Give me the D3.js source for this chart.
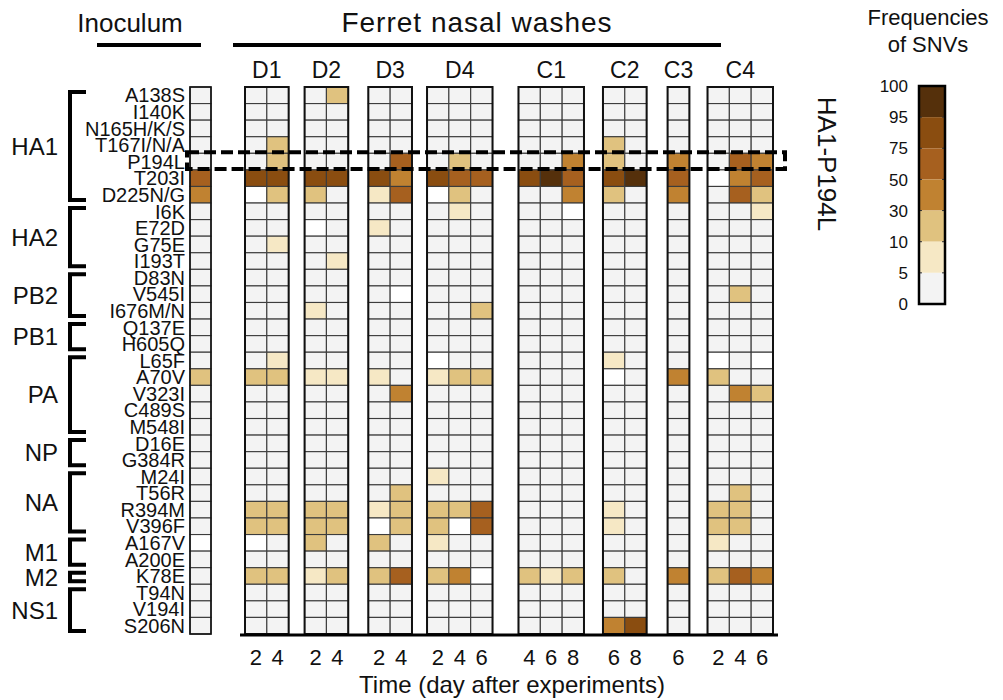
<!DOCTYPE html>
<html>
<head>
<meta charset="utf-8">
<script src="https://cdnjs.cloudflare.com/ajax/libs/d3/7.8.5/d3.min.js"></script>
<style>
  body { margin: 0; background: #fff; }
  svg text { font-family: "Liberation Sans", Arial, sans-serif; fill: #111; }
</style>
</head>
<body>
<svg id="chart" width="1003" height="700"></svg>
<script>
// mutations, top to bottom
var mutations = ["A138S", "I140K", "N165H/K/S", "T167I/N/A", "P194L", "T203I", "D225N/G",
  "I6K", "E72D", "G75E", "I193T",
  "D83N", "V545I", "I676M/N",
  "Q137E", "H605Q",
  "L65F", "A70V", "V323I", "C489S", "M548I",
  "D16E", "G384R",
  "M24I", "T56R", "R394M", "V396F",
  "A167V", "A200E",
  "K78E",
  "T94N", "V194I", "S206N"];
var genes = ["HA1", "HA2", "PB2", "PB1", "PA", "NP", "NA", "M1", "M2", "NS1"];
var geneRows = [7, 4, 3, 2, 5, 2, 4, 2, 1, 3];

var ferrets = ["D1", "D2", "D3", "D4", "C1", "C2", "C3", "C4"];
var ferretDays = [[2, 4], [2, 4], [2, 4], [2, 4, 6], [4, 6, 8], [6, 8], [6], [2, 4, 6]];

// SNV frequency (%) per sample, rows in the order above; null = white (no data)
var inoculum = [1,1,1,1,1,60,40, 1,1,1,1, 1,1,1, 1,1, 1,20,1,1,1, 1,1, 1,1,1,1, null,1, 1, 1,1,1];

var freqD1 = [
  [1,1,1,1,1,85,null, 1,1,1,1, 1,1,1, 1,1, 1,20,1,1,1, 1,1, 1,1,20,20, null,1, 20, 1,1,1],
  [1,1,1,20,20,85,20, 1,1,7,1, 1,1,1, 1,1, 7,20,1,1,1, 1,1, 1,1,20,20, 1,1, 20, 1,1,1]
];
var freqD2 = [
  [1,1,1,1,1,85,20, 1,null,1,1, 1,1,7, 1,1, 1,7,1,1,1, 1,1, 1,1,20,20, 20,1, 7, 1,1,1],
  [20,1,1,1,1,85,1, 1,1,1,7, 1,1,1, 1,1, 1,7,1,1,1, 1,1, 1,1,20,20, 1,1, 20, 1,1,1]
];
var freqD3 = [
  [1,1,1,1,1,85,7, 1,7,1,1, 1,1,1, 1,1, 1,7,1,1,1, 1,1, 1,1,7,null, 20,1, 20, 1,1,1],
  [1,1,1,1,60,40,60, 1,1,1,1, 1,null,1, 1,1, 1,1,40,1,1, 1,1, 1,20,20,20, 1,1, 60, 1,1,1]
];
var freqD4 = [
  [1,1,1,1,1,85,null, 1,1,1,1, 1,1,1, 1,1, null,7,1,1,1, 1,1, 7,1,20,20, 7,1, 20, 1,1,1],
  [1,1,1,1,20,60,20, 7,1,1,1, 1,1,1, 1,1, 1,20,1,1,1, 1,1, 1,1,20,null, 1,1, 40, 1,1,1],
  [1,1,1,1,1,60,1, 1,1,1,1, 1,1,20, 1,1, 1,20,1,1,1, 1,1, 1,1,60,60, 1,1, null, 1,1,1]
];
var freqC1 = [
  [1,1,1,1,1,85,1, 1,1,1,1, 1,1,1, 1,1, 1,1,1,1,1, 1,1, 1,1,1,1, 1,1, 20, 1,1,1],
  [1,1,1,1,1,98,1, 1,1,1,1, 1,1,1, 1,1, 1,1,1,1,1, 1,1, 1,1,1,1, 1,1, 7, 1,1,1],
  [1,1,1,1,40,60,40, null,1,1,1, 1,1,1, 1,1, 1,1,1,1,1, 1,1, 1,1,1,1, 1,1, 20, 1,1,1]
];
var freqC2 = [
  [1,1,1,20,20,85,20, 1,1,1,1, 1,1,1, 1,1, 7,null,1,1,1, 1,1, 1,1,7,7, 1,1, 20, 1,1,40],
  [1,1,1,1,1,98,1, 1,1,1,1, 1,1,1, 1,1, 1,1,1,1,1, 1,1, 1,1,1,1, 1,1, 1, 1,1,85]
];
var freqC3 = [
  [1,1,1,1,40,60,40, 1,1,1,1, 1,1,1, 1,1, 1,40,1,1,1, 1,1, 1,1,1,1, 1,1, 40, 1,1,1]
];
var freqC4 = [
  [1,1,1,1,1,null,1, 1,1,1,1, 1,1,1, 1,1, null,20,1,1,1, 1,1, 1,1,20,20, 7,1, 20, 1,1,1],
  [1,1,1,1,60,40,60, 1,1,1,1, 1,20,1, 1,1, 1,1,40,1,1, 1,1, 1,20,20,20, 1,1, 60, 1,1,1],
  [1,1,1,1,40,60,20, 7,1,1,1, 1,1,1, 1,1, null,1,20,1,1, 1,1, 1,1,1,1, 1,1, 40, 1,1,1]
];
var ferretFreqs = [freqD1, freqD2, freqD3, freqD4, freqC1, freqC2, freqC3, freqC4];

// legend
var legendTicks = [100, 95, 75, 50, 30, 10, 5, 0];
var binColors = ["#f3f3f3", "#f6e8c5", "#e0c27f", "#c08231", "#a6601f", "#8a4d10", "#55300b"];

var color = d3.scaleThreshold().domain([5, 10, 30, 50, 75, 95]).range(binColors);
function fillOf(v) { return v == null ? "#ffffff" : color(v); }

var svg = d3.select("#chart");
var y = d3.scaleBand().domain(mutations).range([87, 634]);
var rowH = y.bandwidth();

// horizontal layout of sample columns, in cell units with gaps between ferrets
var gapUnits = [0, 0.73, 0.92, 0.69, 1.19, 0.87, 0.96, 0.83];
var cols = [], groupSpans = [], u = 0;
ferrets.forEach(function(f, i) {
  u += gapUnits[i];
  var start = u;
  ferretDays[i].forEach(function(d, j) {
    cols.push({ferret: f, day: d, unit: u, values: ferretFreqs[i][j]});
    u += 1;
  });
  groupSpans.push({name: f, start: start, end: u});
});
var x = d3.scaleLinear().domain([0, u]).range([245, 773]);
var cellW = x(1) - x(0);

// ---- headers
svg.append("text").attr("x", 130).attr("y", 32).attr("text-anchor", "middle")
  .style("font-size", "26px").text("Inoculum");
svg.append("line").attr("x1", 97).attr("x2", 201).attr("y1", 45).attr("y2", 45)
  .attr("stroke", "#000").attr("stroke-width", 4);
svg.append("text").attr("x", 477).attr("y", 32).attr("text-anchor", "middle")
  .style("font-size", "28px").style("letter-spacing", "1px").text("Ferret nasal washes");
svg.append("line").attr("x1", 233).attr("x2", 721).attr("y1", 45).attr("y2", 45)
  .attr("stroke", "#000").attr("stroke-width", 4);

svg.append("g").selectAll("text").data(groupSpans).join("text")
  .attr("x", function(d) { return (x(d.start) + x(d.end)) / 2; })
  .attr("y", 78).attr("text-anchor", "middle").style("font-size", "23px")
  .text(function(d) { return d.name; });

// ---- row labels
svg.append("g").selectAll("text").data(mutations).join("text")
  .attr("x", 185).attr("y", function(d) { return y(d) + rowH / 2; })
  .attr("dy", "0.36em").attr("text-anchor", "end")
  .style("font-size", "20px")
  .text(function(d) { return d; });

// ---- gene brackets
var acc = 0;
var geneSpans = genes.map(function(g, i) {
  var s = {name: g, first: mutations[acc], last: mutations[acc + geneRows[i] - 1]};
  acc += geneRows[i];
  return s;
});
var br = svg.append("g");
geneSpans.forEach(function(s) {
  var y0 = y(s.first) + 5, y1 = y(s.last) + rowH - 3;
  br.append("path")
    .attr("d", "M86," + y0 + "H70V" + y1 + "H86")
    .attr("fill", "none").attr("stroke", "#000").attr("stroke-width", 4);
  br.append("text").attr("x", 58).attr("y", (y0 + y1) / 2).attr("dy", "0.36em")
    .attr("text-anchor", "end").style("font-size", "24px").text(s.name);
});

// ---- inoculum column
var inocX = 190, inocW = 21;
svg.append("g").selectAll("rect").data(inoculum).join("rect")
  .attr("x", inocX).attr("y", function(d, i) { return y(mutations[i]); })
  .attr("width", inocW).attr("height", rowH)
  .attr("fill", fillOf).attr("stroke", "#3c3c3c").attr("stroke-width", 1.1);
svg.append("rect").attr("x", inocX).attr("y", y.range()[0]).attr("width", inocW)
  .attr("height", y.range()[1] - y.range()[0])
  .attr("fill", "none").attr("stroke", "#111").attr("stroke-width", 1.6);

// ---- ferret columns
var heat = svg.append("g");
cols.forEach(function(c) {
  heat.append("g").selectAll("rect").data(c.values).join("rect")
    .attr("x", x(c.unit)).attr("y", function(d, i) { return y(mutations[i]); })
    .attr("width", cellW).attr("height", rowH)
    .attr("fill", fillOf).attr("stroke", "#3c3c3c").attr("stroke-width", 1.1);
});
heat.append("g").selectAll("rect").data(groupSpans).join("rect")
  .attr("x", function(d) { return x(d.start); })
  .attr("y", y.range()[0])
  .attr("width", function(d) { return x(d.end) - x(d.start); })
  .attr("height", y.range()[1] - y.range()[0])
  .attr("fill", "none").attr("stroke", "#111").attr("stroke-width", 2);

// ---- bottom axis line and day labels
svg.append("line").attr("x1", 240).attr("x2", 778)
  .attr("y1", y.range()[1] + 1).attr("y2", y.range()[1] + 1)
  .attr("stroke", "#000").attr("stroke-width", 3);
svg.append("g").selectAll("text").data(cols).join("text")
  .attr("x", function(d) { return x(d.unit) + cellW / 2; })
  .attr("y", 665).attr("text-anchor", "middle").style("font-size", "22px")
  .text(function(d) { return d.day; });
svg.append("text").attr("x", 512).attr("y", 693).attr("text-anchor", "middle")
  .style("font-size", "24px").text("Time (day after experiments)");

// ---- dashed box around HA1-P194L
svg.append("rect").attr("x", 187).attr("y", y("P194L") - 1)
  .attr("width", 598).attr("height", rowH)
  .attr("fill", "none").attr("stroke", "#000").attr("stroke-width", 4)
  .attr("stroke-dasharray", "12,5");
svg.append("text").attr("transform", "translate(818,164) rotate(90)")
  .attr("text-anchor", "middle").style("font-size", "26px").text("HA1-P194L");

// ---- legend
svg.append("text").attr("x", 928).attr("y", 25).attr("text-anchor", "middle")
  .style("font-size", "22px").text("Frequencies");
svg.append("text").attr("x", 928).attr("y", 52).attr("text-anchor", "middle")
  .style("font-size", "22px").text("of SNVs");
var ly = d3.scalePoint().domain(legendTicks).range([86, 304]);
var lx0 = 919, lw = 26;
var bins = d3.pairs(legendTicks);
svg.append("g").selectAll("rect").data(bins).join("rect")
  .attr("x", lx0).attr("y", function(d) { return ly(d[0]); })
  .attr("width", lw).attr("height", function(d) { return ly(d[1]) - ly(d[0]); })
  .attr("fill", function(d) { return color((d[0] + d[1]) / 2); });
svg.append("g").selectAll("path").data(legendTicks.slice(1, -1)).join("path")
  .attr("d", function(d) {
    return "M" + lx0 + "," + ly(d) + "h3M" + (lx0 + lw) + "," + ly(d) + "h-3";
  })
  .attr("stroke", "#333").attr("stroke-width", 1);
svg.append("rect").attr("x", lx0).attr("y", 86).attr("width", lw).attr("height", 218)
  .attr("fill", "none").attr("stroke", "#000").attr("stroke-width", 2.5);
svg.append("g").selectAll("text").data(legendTicks).join("text")
  .attr("x", 908).attr("y", function(d) { return ly(d); }).attr("dy", "0.36em")
  .attr("text-anchor", "end").style("font-size", "17px")
  .text(function(d) { return d; });
</script>
</body>
</html>
